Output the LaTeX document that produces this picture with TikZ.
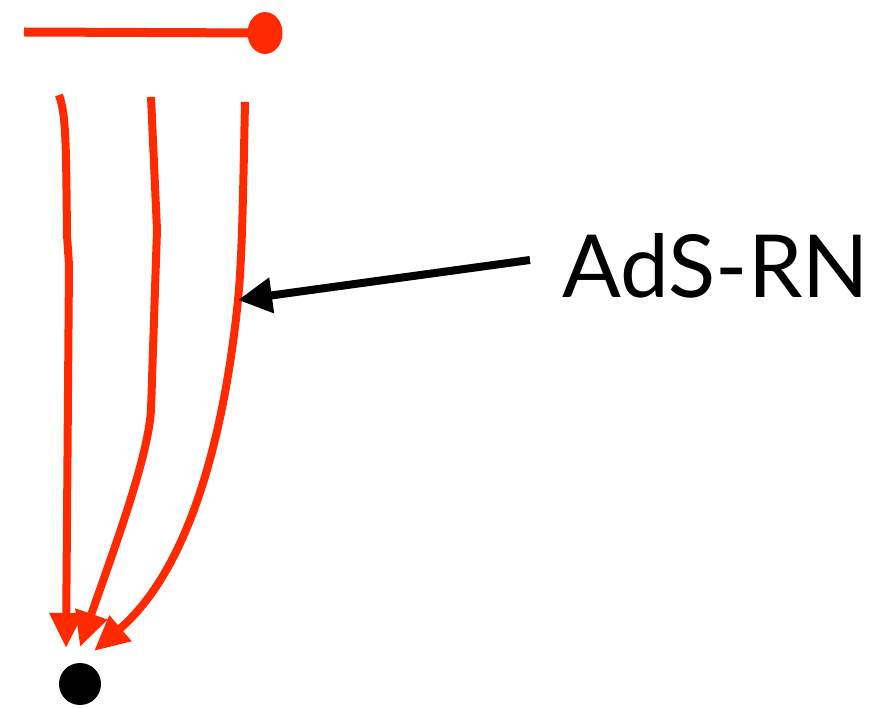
\documentclass[tikz,border=0pt]{standalone}
\usepackage{fontspec}
\setmainfont{Lato}
\usetikzlibrary{arrows.meta,shapes.geometric}
\definecolor{rnred}{HTML}{FF2A00}
\begin{document}
\begin{tikzpicture}[x=1pt,y=-1pt,
  flow/.style={draw=rnred,line width=8pt,-{Triangle[length=35pt,width=32pt]}},
  pointer/.style={draw=black,line width=8pt,-{Triangle[length=34pt,width=34pt]}}]
\useasboundingbox (0,0) rectangle (883,708);
% horizon line with dot
\coordinate (hl) at (24,32);
\node[ellipse,fill=rnred,minimum width=35pt,minimum height=42pt,inner sep=0pt] (hdot) at (265,33) {};
\draw[rnred,line width=9pt] (hl) -- (hdot.center);
% singularity
\node[circle,fill=black,minimum size=42pt,inner sep=0pt] (sing) at (80,684) {};
% flow lines
\coordinate (s1) at (59,95);
\coordinate (t1) at (66,648);
\coordinate (s2) at (151,97);
\coordinate (t2) at (80,647);
\coordinate (s3) at (245,102);
\coordinate (t3) at (94,651);
\coordinate (m3) at (238,300);
\draw[flow] (s1) .. controls (66,115) and (66,140) .. (67,235) -- (69,265) -- (t1);
\draw[flow] (s2) -- (157,230) -- (151,410) .. controls (148,460) and (110,560) .. (t2);
\draw[flow] (s3) .. controls (243,200) and (242,260) .. (m3) .. controls (228,400) and (200,560) .. (t3);
% label
\node[anchor=base west,inner sep=0pt,font=\fontsize{87}{87}\selectfont] (lbl) at (562,298) {AdS-RN};
\coordinate (pt) at (530,260);
\draw[pointer] (pt) -- (m3);
\end{tikzpicture}
\end{document}
